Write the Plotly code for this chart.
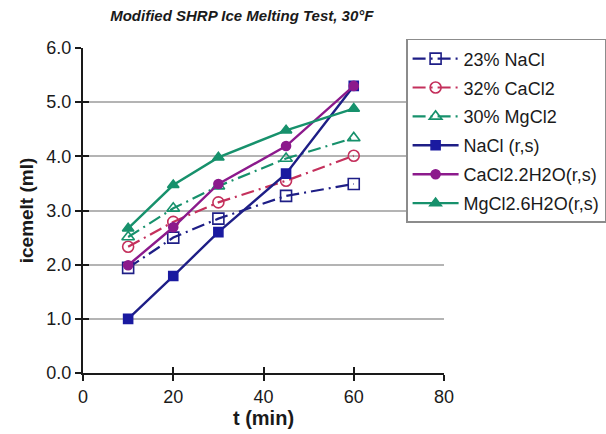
import plotly.graph_objects as go

t = [10, 20, 30, 45, 60]
nacl23 = [1.94, 2.50, 2.85, 3.27, 3.49]
cacl32 = [2.33, 2.79, 3.15, 3.55, 4.01]
mgcl30 = [2.51, 3.04, 3.45, 3.96, 4.34]
nacl_rs = [1.00, 1.79, 2.60, 3.68, 5.30]
cacl_rs = [1.99, 2.69, 3.49, 4.19, 5.30]
mgcl_rs = [2.67, 3.47, 3.98, 4.48, 4.88]

names = ["23% NaCl", "32% CaCl2", "30% MgCl2", "NaCl (r,s)", "CaCl2.2H2O(r,s)", "MgCl2.6H2O(r,s)"]
values = [nacl23, cacl32, mgcl30, nacl_rs, cacl_rs, mgcl_rs]

NAVY = "#1e1e86"
CRIM = "#c4305c"
GREEN = "#17916c"
PURP = "#8c1a8c"

styles = [
    dict(color=NAVY, dash="13px,5px,2px,5px", width=2.2, symbol="square-open", msize=11, mcolor=NAVY),
    dict(color=CRIM, dash="13px,5px,2px,5px", width=2.2, symbol="circle-open", msize=11, mcolor=CRIM),
    dict(color=GREEN, dash="13px,5px,2px,5px", width=2.2, symbol="triangle-up-open", msize=11, mcolor=GREEN),
    dict(color=NAVY, dash="solid", width=2.4, symbol="square", msize=9, mcolor="#1a1aa0"),
    dict(color=PURP, dash="solid", width=2.4, symbol="circle", msize=9, mcolor=PURP),
    dict(color=GREEN, dash="solid", width=2.4, symbol="triangle-up", msize=10, mcolor=GREEN),
]

fig = go.Figure()
for i, (n, v, s) in enumerate(zip(names, values, styles)):
    fig.add_trace(go.Scatter(
        x=t, y=v, name=n, mode="lines+markers", legendgroup=f"g{i}",
        line=dict(color=s["color"], dash=s["dash"], width=s["width"]),
        marker=dict(symbol=s["symbol"], size=s["msize"], color=s["mcolor"],
                    line=dict(color=s["mcolor"], width=1.6)),
    ))

FONT = "Liberation Sans, Arial, sans-serif"
fig.update_layout(
    width=606, height=434,
    margin=dict(l=83, r=162, t=48, b=61, autoexpand=False),
    paper_bgcolor="white", plot_bgcolor="white",
    font=dict(family=FONT, size=18, color="#1a1a1a"),
    title=dict(text="Modified SHRP Ice Melting Test, 30°F",
               font=dict(family=FONT, size=15, weight="bold", style="italic", color="#1a1a1a"),
               x=0.44, xref="paper", xanchor="center", y=0.964, yref="container", yanchor="middle"),
    xaxis=dict(range=[0, 80], tickvals=[0, 20, 40, 60, 80], showgrid=False, zeroline=False,
               showline=True, linecolor="#1a1a1a", linewidth=2, ticks="outside", ticklen=6,
               tickwidth=2, tickcolor="#1a1a1a",
               title=dict(text="<b>t (min)</b>", font=dict(size=20), standoff=4)),
    yaxis=dict(range=[0, 6], tickvals=[0, 1, 2, 3, 4, 5, 6],
               ticktext=["0.0", "1.0", "2.0", "3.0", "4.0", "5.0", "6.0"],
               showgrid=True, gridcolor="#b4b4b4", gridwidth=1.5, zeroline=False,
               showline=True, linecolor="#1a1a1a", linewidth=2, ticks="outside", ticklen=6,
               tickwidth=2, tickcolor="#1a1a1a",
               title=dict(text="<b>icemelt (ml)</b>", font=dict(size=19), standoff=8)),
    xaxis2=dict(range=[0, 80], tickvals=[0, 20, 40, 60, 80], overlaying="x", side="bottom",
                showticklabels=False, showgrid=False, zeroline=False, ticks="inside", ticklen=6,
                tickwidth=2, tickcolor="#1a1a1a", anchor="y"),
    yaxis2=dict(range=[0, 6], tickvals=[0, 1, 2, 3, 4, 5, 6], overlaying="y", side="left",
                showticklabels=False, showgrid=False, zeroline=False, ticks="inside", ticklen=6,
                tickwidth=2, tickcolor="#1a1a1a", anchor="x"),
    legend=dict(x=0.895, y=1.028, xanchor="left", yanchor="top", bgcolor="white",
                bordercolor="#8c8c8c", borderwidth=1.5, font=dict(size=18, color="#1a1a1a"),
                tracegroupgap=2.5, itemwidth=46),
)
fig.add_trace(go.Scatter(x=[None], y=[None], xaxis="x2", yaxis="y2", showlegend=False, hoverinfo="skip"))

fig.write_html("out.html", config={"displayModeBar": False},
               post_script="document.body.style.margin='0';")
